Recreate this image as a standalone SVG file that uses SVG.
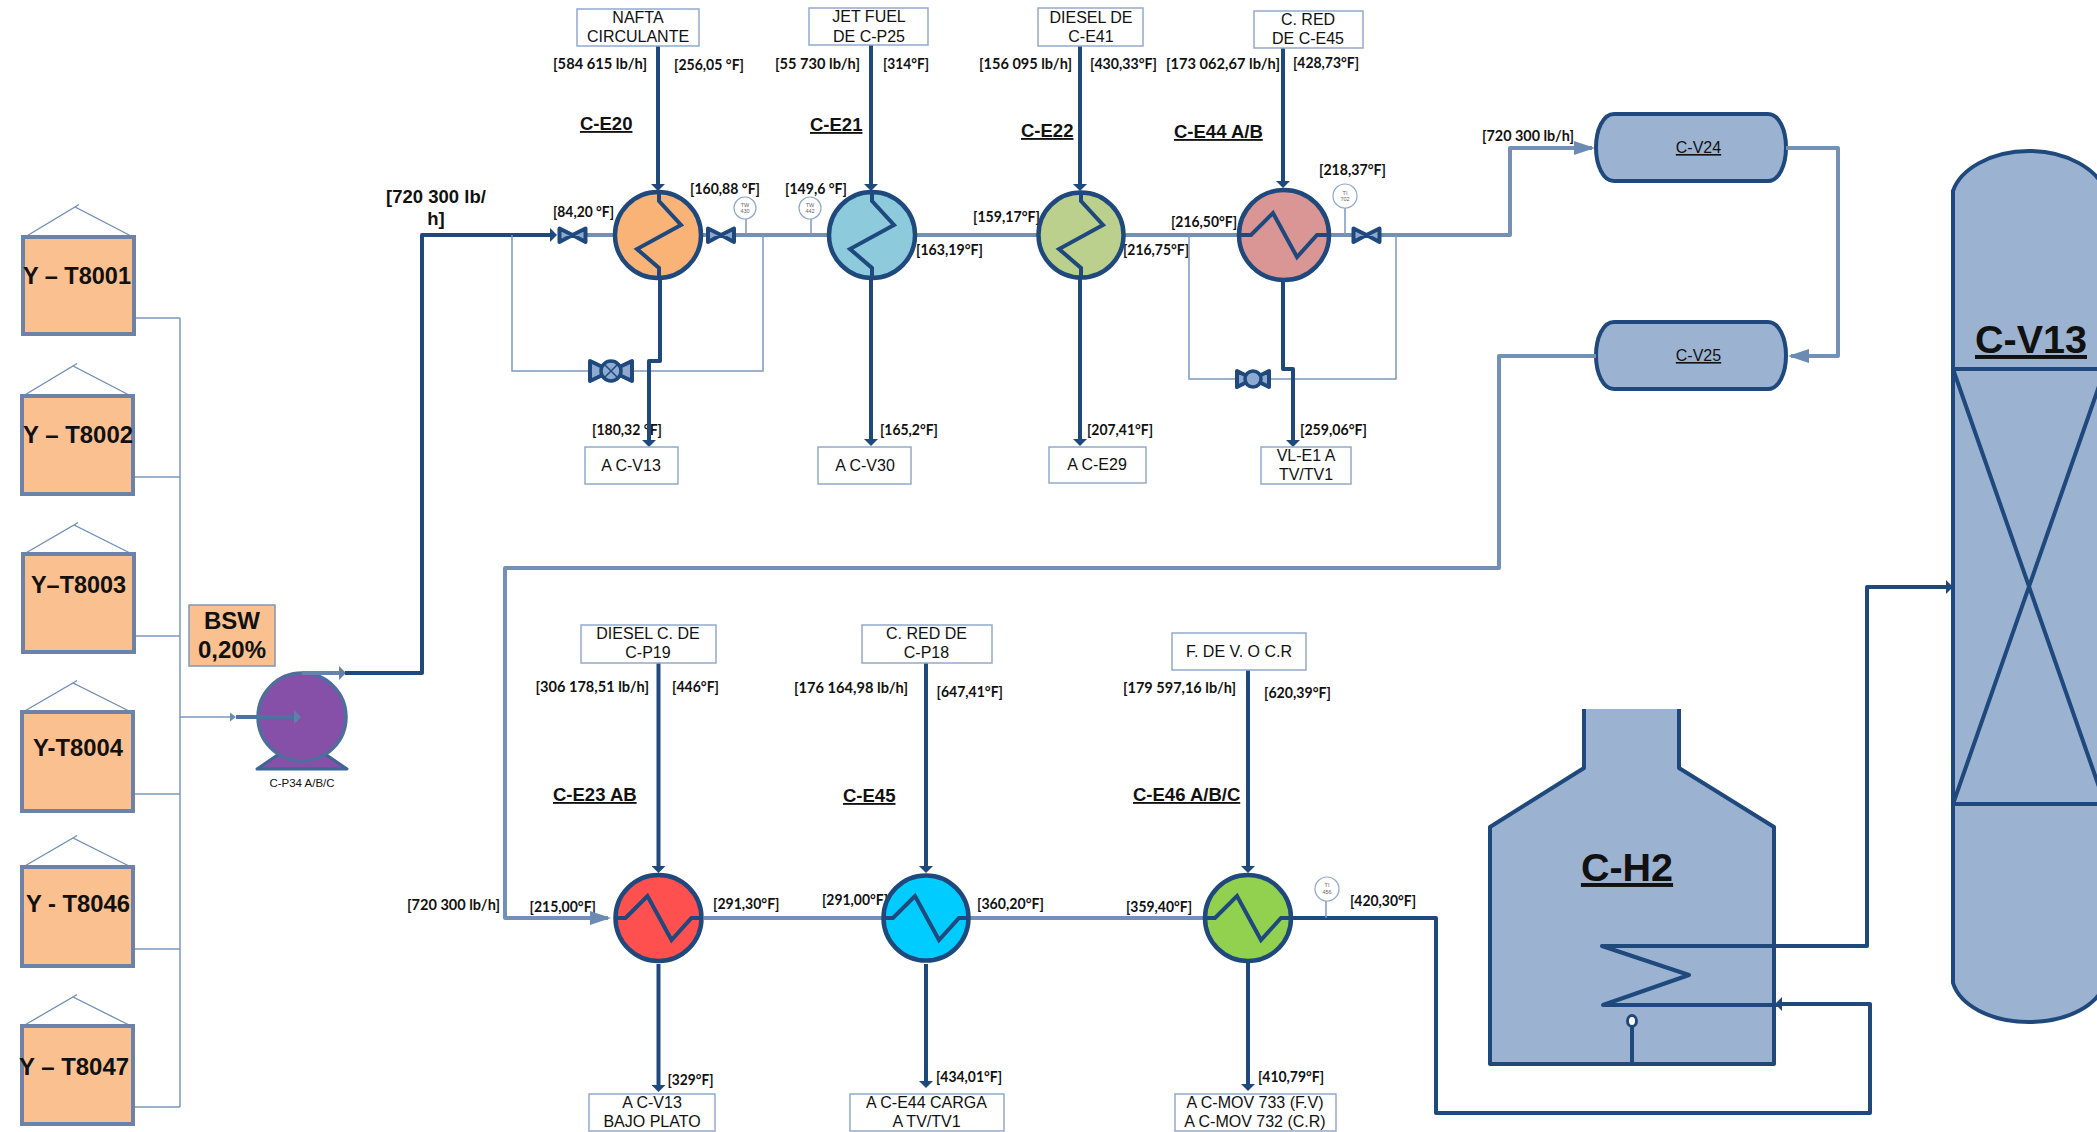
<svg xmlns="http://www.w3.org/2000/svg" width="2097" height="1132" viewBox="0 0 2097 1132">
<style>
text{font-family:"Liberation Sans",Arial,sans-serif;fill:#111}
.f{font-family:Lato,"Liberation Sans",sans-serif;font-weight:700;font-size:16px}
.tag{font-weight:700;font-size:18.5px;text-decoration:underline}
.tk{font-weight:700;font-size:24px}
.bx{font-size:16px;text-anchor:middle}
.big{font-weight:700;font-size:39.5px;text-anchor:middle;text-decoration:underline}
.ins{font-size:5.5px;text-anchor:middle;fill:#666}
.tank{fill:#FAC090;stroke:#6C82A8;stroke-width:4}
.roof{fill:none;stroke:#6F8EB8;stroke-width:1.3}
.box{fill:#fff;stroke:#93A9CC;stroke-width:1.5}
.ves{fill:#9BB3D1;stroke:#1F497D;stroke-width:4;stroke-linejoin:round}
.hx{stroke:#1F497D;stroke-width:4.5}
.coil{fill:none;stroke:#1F497D;stroke-width:4;stroke-linejoin:miter}
.d{fill:none;stroke:#1F497D;stroke-width:4;stroke-linejoin:round}
.s{fill:none;stroke:#7391B6;stroke-width:4;stroke-linejoin:round}
.t{fill:none;stroke:#7C98BE;stroke-width:1.5}
.v{fill:#8FAAD0;stroke:#1F497D;stroke-width:4;stroke-linejoin:round}
.ic{fill:#fff;stroke:#8FA8CC;stroke-width:1.2}
</style>
<defs>
<marker id="ad" viewBox="0 0 7 14" refX="4" refY="7" markerWidth="7" markerHeight="14" markerUnits="userSpaceOnUse" orient="auto"><path d="M0 0L7 7L0 14Z" fill="#1F497D"/></marker>
<marker id="as" viewBox="0 0 21 14" refX="18" refY="7" markerWidth="21" markerHeight="14" markerUnits="userSpaceOnUse" orient="auto"><path d="M0 0L21 7L0 14Z" fill="#6C8BB2"/></marker>
<marker id="am" viewBox="0 0 7 14" refX="4" refY="7" markerWidth="7" markerHeight="14" markerUnits="userSpaceOnUse" orient="auto"><path d="M0 0L7 7L0 14Z" fill="#5F80AA"/></marker>
<path id="cv" class="coil" d="M1 -44V-34L23 -10L-21 14L1 33V43"/>
<path id="ch" class="coil" d="M-44 0H-33L-11 -22L13 22L33 0H44"/>
<path id="vs" class="v" d="M-13 -6.500L0 0L13 -6.500V7L0 0L-13 7Z"/>
</defs>

<g id="flow-labels">
<text class="f" x="553" y="69" textLength="94" lengthAdjust="spacingAndGlyphs">[584 615 lb/h]</text>
<text class="f" x="674" y="70" textLength="70" lengthAdjust="spacingAndGlyphs">[256,05 °F]</text>
<text class="f" x="775" y="69" textLength="85" lengthAdjust="spacingAndGlyphs">[55 730 lb/h]</text>
<text class="f" x="883" y="69" textLength="46" lengthAdjust="spacingAndGlyphs">[314°F]</text>
<text class="f" x="690" y="194" textLength="70" lengthAdjust="spacingAndGlyphs">[160,88 °F]</text>
<text class="f" x="553" y="217" textLength="61" lengthAdjust="spacingAndGlyphs">[84,20 °F]</text>
<text class="f" x="785" y="194" textLength="62" lengthAdjust="spacingAndGlyphs">[149,6 °F]</text>
<text class="f" x="916" y="255" textLength="67" lengthAdjust="spacingAndGlyphs">[163,19°F]</text>
<text class="f" x="592" y="435" textLength="70" lengthAdjust="spacingAndGlyphs">[180,32 °F]</text>
<text class="f" x="880" y="435" textLength="58" lengthAdjust="spacingAndGlyphs">[165,2°F]</text>
<text class="f" x="979" y="69" textLength="93" lengthAdjust="spacingAndGlyphs">[156 095 lb/h]</text>
<text class="f" x="1090" y="69" textLength="67" lengthAdjust="spacingAndGlyphs">[430,33°F]</text>
<text class="f" x="1166" y="69" textLength="114" lengthAdjust="spacingAndGlyphs">[173 062,67 lb/h]</text>
<text class="f" x="1293" y="68" textLength="66" lengthAdjust="spacingAndGlyphs">[428,73°F]</text>
<text class="f" x="1319" y="175" textLength="67" lengthAdjust="spacingAndGlyphs">[218,37°F]</text>
<text class="f" x="973" y="222" textLength="67" lengthAdjust="spacingAndGlyphs">[159,17°F]</text>
<text class="f" x="1171" y="227" textLength="66" lengthAdjust="spacingAndGlyphs">[216,50°F]</text>
<text class="f" x="1123" y="255" textLength="66" lengthAdjust="spacingAndGlyphs">[216,75°F]</text>
<text class="f" x="1087" y="435" textLength="66" lengthAdjust="spacingAndGlyphs">[207,41°F]</text>
<text class="f" x="1300" y="435" textLength="67" lengthAdjust="spacingAndGlyphs">[259,06°F]</text>
<text class="f" x="1482" y="141" textLength="92" lengthAdjust="spacingAndGlyphs">[720 300 lb/h]</text>
<text class="f" x="535.5" y="692" textLength="113.5" lengthAdjust="spacingAndGlyphs">[306 178,51 lb/h]</text>
<text class="f" x="672" y="692" textLength="47" lengthAdjust="spacingAndGlyphs">[446°F]</text>
<text class="f" x="794" y="693" textLength="114" lengthAdjust="spacingAndGlyphs">[176 164,98 lb/h]</text>
<text class="f" x="936.5" y="697" textLength="66.5" lengthAdjust="spacingAndGlyphs">[647,41°F]</text>
<text class="f" x="1123" y="693" textLength="113" lengthAdjust="spacingAndGlyphs">[179 597,16 lb/h]</text>
<text class="f" x="1264" y="698" textLength="67" lengthAdjust="spacingAndGlyphs">[620,39°F]</text>
<text class="f" x="407" y="910" textLength="93" lengthAdjust="spacingAndGlyphs">[720 300 lb/h]</text>
<text class="f" x="529.5" y="912" textLength="66.5" lengthAdjust="spacingAndGlyphs">[215,00°F]</text>
<text class="f" x="713" y="909" textLength="66.5" lengthAdjust="spacingAndGlyphs">[291,30°F]</text>
<text class="f" x="822" y="905" textLength="66" lengthAdjust="spacingAndGlyphs">[291,00°F]</text>
<text class="f" x="977" y="909" textLength="67" lengthAdjust="spacingAndGlyphs">[360,20°F]</text>
<text class="f" x="1126" y="912" textLength="66" lengthAdjust="spacingAndGlyphs">[359,40°F]</text>
<text class="f" x="1350" y="906" textLength="66" lengthAdjust="spacingAndGlyphs">[420,30°F]</text>
<text class="f" x="667.5" y="1085" textLength="46" lengthAdjust="spacingAndGlyphs">[329°F]</text>
<text class="f" x="936" y="1082" textLength="66" lengthAdjust="spacingAndGlyphs">[434,01°F]</text>
<text class="f" x="1258" y="1082" textLength="66" lengthAdjust="spacingAndGlyphs">[410,79°F]</text>
<text x="436" y="203" text-anchor="middle" font-size="18.5" font-weight="700">[720 300 lb/</text>
<text x="436" y="225" text-anchor="middle" font-size="18.5" font-weight="700">h]</text>
</g>

<g id="C-V13"><path class="ves" d="M1953 191C1960 170 1990 151 2029 151C2068 151 2098 170 2105 191V983C2098 1005 2068 1022 2029 1022C1990 1022 1960 1005 1953 983Z"/><path class="d" d="M1953 369H2105M1953 804H2105M1953 369L2105 804M1953 804L2105 369"/><text class="big" x="2031" y="353">C-V13</text></g>
<g id="C-H2"><path class="ves" d="M1584 709V768L1490 827V1064H1774V827L1679 768V709"/><text class="big" x="1627" y="881">C-H2</text><path class="d" d="M1632 1064V1027"/><ellipse cx="1632" cy="1021" rx="4.5" ry="5.5" fill="#fff" stroke="#1F497D" stroke-width="3"/></g>
<g id="C-V24"><path class="ves" d="M1614 114H1768C1779 114 1786 130 1786 147.500C1786 165 1779 181 1768 181H1614C1603 181 1596 165 1596 147.500C1596 130 1603 114 1614 114Z"/><text class="bx" x="1698.5" y="153" text-decoration="underline">C-V24</text></g>
<g id="C-V25"><path class="ves" d="M1614 322H1768C1779 322 1786 338 1786 355.500C1786 373 1779 389 1768 389H1614C1603 389 1596 373 1596 355.500C1596 338 1603 322 1614 322Z"/><text class="bx" x="1698.5" y="361" text-decoration="underline">C-V25</text></g>
<g id="C-P34"><path d="M257 769L279 754H325L347 769Z" fill="#8650A8" stroke="#3F6496" stroke-width="3" stroke-linejoin="round"/><circle cx="302" cy="717" r="44" fill="#8650A8" stroke="#4F6E9E" stroke-width="3.5"/><text x="302" y="787" text-anchor="middle" font-size="11.5" fill="#222">C-P34 A/B/C</text></g>

<g id="connectors">
<path class="t" d="M133 318H180M133 477H180M133 636H180M133 794H180M133 949H180M133 1107H180M180 318V1107M180 717H234"/>
<path d="M230 712.5L236 717L230 721.5Z" fill="#6C8BB2"/>
<path d="M236 717H298" fill="none" stroke="#4F72A0" stroke-width="4" marker-end="url(#am)"/>
<path d="M302 673H343" fill="none" stroke="#6484AE" stroke-width="4" marker-end="url(#am)"/>
<path class="d" d="M345 673H422V235H554" marker-end="url(#ad)"/>
<path class="s" d="M587 235H1510V148H1592" marker-end="url(#as)"/>
<path class="s" d="M1786 148H1838V356H1791" marker-end="url(#as)"/>
<path class="s" d="M1596 356H1499V568H505V918H608" marker-end="url(#as)"/>
<path class="s" d="M704 918H1203"/>
<path class="t" d="M512 235V371H763V235M1189 235V379H1396V235"/>
<path class="d" d="M658 46V188" marker-end="url(#ad)"/>
<path class="d" d="M660 279V361H649V444" marker-end="url(#ad)"/>
<path class="d" d="M871 45V188" marker-end="url(#ad)"/>
<path class="d" d="M871 279V443" marker-end="url(#ad)"/>
<path class="d" d="M1080 46V188" marker-end="url(#ad)"/>
<path class="d" d="M1080 279V443" marker-end="url(#ad)"/>
<path class="d" d="M1283 48V185" marker-end="url(#ad)"/>
<path class="d" d="M1283 282V369H1293V444" marker-end="url(#ad)"/>
<path class="d" d="M658.5 662V870" marker-end="url(#ad)"/>
<path class="d" d="M658.5 964V1089" marker-end="url(#ad)"/>
<path class="d" d="M926 663V870" marker-end="url(#ad)"/>
<path class="d" d="M926 964V1085" marker-end="url(#ad)"/>
<path class="d" d="M1248 670V870" marker-end="url(#ad)"/>
<path class="d" d="M1248 962V1088" marker-end="url(#ad)"/>
<path class="d" d="M1293 918H1436V1113H1870V1004H1778" marker-end="url(#ad)"/>
<path class="d" d="M1778 1005H1603L1689 975L1602 946H1867V587H1950" marker-end="url(#ad)"/>
</g>

<g id="Y-T8001"><path class="roof" d="M25 237L75 207L133 237M75 207L79 204.500"/><rect class="tank" x="23" y="237" width="111" height="97"/><text class="tk" x="23" y="284" textLength="108" lengthAdjust="spacingAndGlyphs">Y – T8001</text></g>
<g id="Y-T8002"><path class="roof" d="M23 396L73 366L131 396M73 366L77 363.500"/><rect class="tank" x="22" y="396" width="111" height="98"/><text class="tk" x="23" y="443" textLength="110" lengthAdjust="spacingAndGlyphs">Y – T8002</text></g>
<g id="Y-T8003"><path class="roof" d="M24 554L74 525L132 554M74 525L78 522.500"/><rect class="tank" x="23" y="554" width="111" height="98"/><text class="tk" x="31" y="593" textLength="95" lengthAdjust="spacingAndGlyphs">Y–T8003</text></g>
<g id="Y-T8004"><path class="roof" d="M23 712L73 683L131 712M73 683L77 680.500"/><rect class="tank" x="22" y="712" width="111" height="99"/><text class="tk" x="33" y="756" textLength="90" lengthAdjust="spacingAndGlyphs">Y-T8004</text></g>
<g id="Y-T8046"><path class="roof" d="M23 867L73 838L131 867M73 838L77 835.500"/><rect class="tank" x="22" y="867" width="111" height="99"/><text class="tk" x="26" y="912" textLength="104" lengthAdjust="spacingAndGlyphs">Y - T8046</text></g>
<g id="Y-T8047"><path class="roof" d="M23 1026L73 997L131 1026M73 997L77 994.500"/><rect class="tank" x="22" y="1026" width="111" height="98"/><text class="tk" x="19" y="1075" textLength="110" lengthAdjust="spacingAndGlyphs">Y – T8047</text></g>
<g id="BSW"><rect x="189" y="605" width="86" height="61" fill="#FAC090" stroke="#7F96B8" stroke-width="1.5"/><text class="tk" x="232" y="629" text-anchor="middle">BSW</text><text class="tk" x="232" y="658" text-anchor="middle">0,20%</text></g>

<g id="C-E20"><text class="tag" x="580" y="130">C-E20</text><circle class="hx" cx="658" cy="235" r="43" fill="#F9B377"/><use href="#cv" x="658" y="235"/></g>
<g id="C-E21"><text class="tag" x="810" y="131">C-E21</text><circle class="hx" cx="872" cy="235" r="43" fill="#8CCADC"/><use href="#cv" x="871" y="235"/></g>
<g id="C-E22"><text class="tag" x="1021" y="137">C-E22</text><circle class="hx" cx="1081" cy="235" r="42.500" fill="#BBD08C"/><use href="#cv" x="1080" y="235"/></g>
<g id="C-E44"><text class="tag" x="1174" y="138">C-E44 A/B</text><circle class="hx" cx="1284" cy="235" r="45" fill="#D99694"/><use href="#ch" x="1284" y="235"/></g>
<g id="C-E23"><text class="tag" x="553" y="801">C-E23 AB</text><circle class="hx" cx="658.500" cy="918" r="43" fill="#FF5050"/><use href="#ch" x="658.500" y="918"/></g>
<g id="C-E45"><text class="tag" x="843" y="802">C-E45</text><circle class="hx" cx="926" cy="918" r="42.500" fill="#00CCFF"/><use href="#ch" x="926" y="918"/></g>
<g id="C-E46"><text class="tag" x="1133" y="801">C-E46 A/B/C</text><circle class="hx" cx="1248" cy="918" r="43" fill="#92D050"/><use href="#ch" x="1248" y="918"/></g>

<g id="valves">
<use href="#vs" x="572.500" y="235"/><use href="#vs" x="721" y="235"/><use href="#vs" x="1366.500" y="235"/>
<path class="v" d="M590 361L611 371L632 361V381L611 371L590 381Z"/><circle cx="611" cy="371" r="10" fill="#8FAAD0" stroke="#1F497D" stroke-width="3.5"/><path d="M604 364L618 378M618 364L604 378" stroke="#1F497D" stroke-width="1.500"/>
<path class="v" d="M1237 371L1253 379L1269 371V387L1253 379L1237 387Z"/><circle cx="1253" cy="379" r="8" fill="#8FAAD0" stroke="#1F497D" stroke-width="3.5"/>
</g>

<g id="TW-430"><path class="t" d="M746 219V235"/><circle class="ic" cx="745" cy="208" r="11"/><text class="ins" x="745" y="207">TW</text><text class="ins" x="745" y="213">430</text></g>
<g id="TW-442"><path class="t" d="M811 219V235"/><circle class="ic" cx="810" cy="208" r="11"/><text class="ins" x="810" y="207">TW</text><text class="ins" x="810" y="213">442</text></g>
<g id="TI-702"><path class="t" d="M1345 208V235"/><circle class="ic" cx="1345" cy="196" r="12"/><text class="ins" x="1345" y="195">TI</text><text class="ins" x="1345" y="201">702</text></g>
<g id="TI-456"><path class="t" d="M1326 901V918"/><circle class="ic" cx="1327" cy="889" r="12"/><text class="ins" x="1327" y="887">TI</text><text class="ins" x="1327" y="894">456</text></g>

<g id="b-nafta"><rect class="box" x="577" y="9" width="122" height="37"/><text class="bx" x="638" y="23">NAFTA</text><text class="bx" x="638" y="42">CIRCULANTE</text></g>
<g id="b-jet"><rect class="box" x="809" y="8" width="119" height="37"/><text class="bx" x="869" y="22">JET FUEL</text><text class="bx" x="869" y="42">DE C-P25</text></g>
<g id="b-diesel"><rect class="box" x="1038" y="8" width="105" height="38"/><text class="bx" x="1091" y="23">DIESEL DE</text><text class="bx" x="1091" y="42">C-E41</text></g>
<g id="b-cred"><rect class="box" x="1254" y="11" width="109" height="37"/><text class="bx" x="1308" y="25">C. RED</text><text class="bx" x="1308" y="44">DE C-E45</text></g>
<g id="b-cv13"><rect class="box" x="585" y="447" width="93" height="37"/><text class="bx" x="631" y="471">A C-V13</text></g>
<g id="b-cv30"><rect class="box" x="818" y="447" width="93" height="37"/><text class="bx" x="865" y="471">A C-V30</text></g>
<g id="b-ce29"><rect class="box" x="1049" y="447" width="97" height="36"/><text class="bx" x="1097" y="470">A C-E29</text></g>
<g id="b-vle1"><rect class="box" x="1261" y="447" width="90" height="37"/><text class="bx" x="1306" y="461">VL-E1 A</text><text class="bx" x="1306" y="480">TV/TV1</text></g>
<g id="b-diesel-c"><rect class="box" x="581" y="625" width="135" height="38"/><text class="bx" x="648" y="639">DIESEL C. DE</text><text class="bx" x="648" y="658">C-P19</text></g>
<g id="b-cred-p18"><rect class="box" x="862" y="625" width="130" height="38"/><text class="bx" x="926.500" y="639">C. RED DE</text><text class="bx" x="926.500" y="658">C-P18</text></g>
<g id="b-fdev"><rect class="box" x="1172" y="633" width="134" height="37"/><text class="bx" x="1239" y="657">F. DE V. O C.R</text></g>
<g id="b-bajo"><rect class="box" x="589" y="1094" width="126" height="37"/><text class="bx" x="652" y="1108">A C-V13</text><text class="bx" x="652" y="1127">BAJO PLATO</text></g>
<g id="b-ce44"><rect class="box" x="850" y="1094" width="154" height="37"/><text class="bx" x="926.500" y="1108">A C-E44 CARGA</text><text class="bx" x="926.500" y="1127">A TV/TV1</text></g>
<g id="b-mov"><rect class="box" x="1175" y="1094" width="161" height="37"/><text class="bx" x="1255" y="1108">A C-MOV 733 (F.V)</text><text class="bx" x="1255" y="1127">A C-MOV 732 (C.R)</text></g>
</svg>
